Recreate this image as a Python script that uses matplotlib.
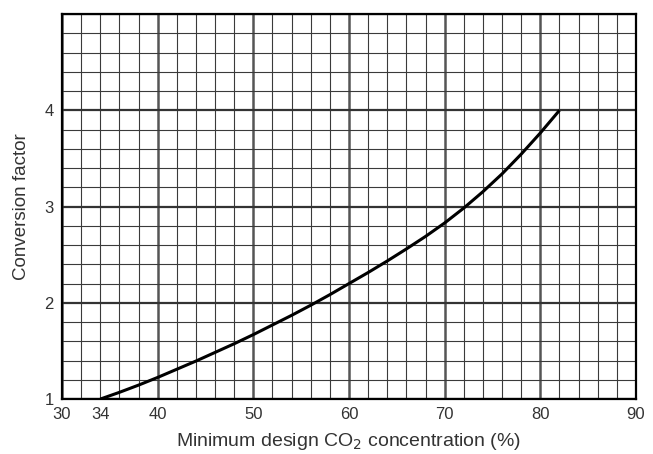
import matplotlib
matplotlib.use("Agg")
import matplotlib.pyplot as plt
from matplotlib.ticker import FixedLocator

plt.rcParams['font.family'] = ['Liberation Sans', 'DejaVu Sans']

co2_pct = [34, 36, 38, 40, 42, 44, 46, 48, 50, 52, 54, 56, 58, 60,
           62, 64, 66, 68, 70, 72, 74, 76, 78, 80, 82]
conv_factor = [1.00, 1.07, 1.145, 1.225, 1.31, 1.395, 1.485, 1.575, 1.67,
               1.77, 1.87, 1.975, 2.085, 2.20, 2.315, 2.435, 2.56, 2.69,
               2.83, 2.985, 3.155, 3.34, 3.545, 3.765, 4.00]
x_ticks = [30, 34, 40, 50, 60, 70, 80, 90]
y_ticks = [1, 2, 3, 4]

fig = plt.figure(figsize=(6.53, 4.54), dpi=100)
ax = fig.add_axes([0.095, 0.121, 0.879, 0.848])

ax.set_xlim(30, 90)
ax.set_ylim(1, 5)

ax.xaxis.set_major_locator(FixedLocator(x_ticks))
ax.yaxis.set_major_locator(FixedLocator(y_ticks))

# grid
for v in range(30, 91, 2):
    major = (v % 10 == 0)
    ax.axvline(v, color='#555555' if major else '#3a3a3a',
               lw=1.8 if major else 0.8, zorder=1)
for i in range(0, 21):
    v = 1 + i * 0.2
    major = (i % 5 == 0)
    ax.axhline(v, color='#333333' if major else '#3a3a3a',
               lw=1.6 if major else 0.8, zorder=1)

ax.plot(co2_pct, conv_factor, color='black', lw=2.2, zorder=3,
        solid_capstyle='butt', solid_joinstyle='round')

ax.tick_params(axis='x', which='both', length=0, pad=5.5, labelsize=12,
               labelcolor='#333333')
ax.tick_params(axis='y', which='both', length=0, pad=6, labelsize=12,
               labelcolor='#333333')
for s in ax.spines.values():
    s.set_linewidth(1.6)
    s.set_color('black')

ax.set_xlabel(r"Minimum design CO$_2$ concentration (%)", fontsize=14,
              color='#333333', labelpad=7)
ax.set_ylabel("Conversion factor", fontsize=13.5, color='#333333',
              labelpad=10)

fig.savefig("out.png", dpi=100)
